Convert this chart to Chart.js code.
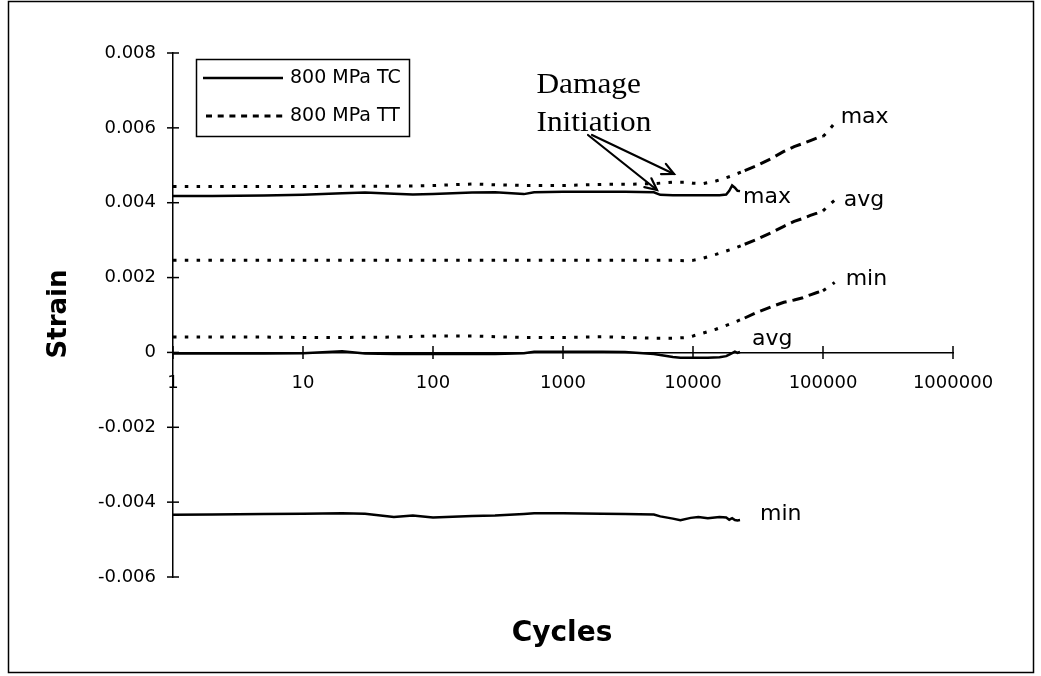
<!DOCTYPE html>
<html><head><meta charset="utf-8">
<script src="https://cdn.jsdelivr.net/npm/chart.js@4.4.1/dist/chart.umd.min.js"></script>
<style>html,body{margin:0;padding:0;background:#fff}#wrap{width:1041px;height:676px;position:relative}</style>
</head><body><div id="wrap"><canvas id="c"></canvas></div>
<script>
// ---- data ----
const tcCycles = [1, 2, 5, 10, 20, 30, 50, 70, 100, 200, 300, 500, 600, 1000, 2000, 3000, 5000, 5600, 7000, 8000, 9600, 11000, 13000, 16000, 18000, 19000, 20000, 21000, 22000, 23000];
const tcMax = [0.00418, 0.00418, 0.00419, 0.00421, 0.00425, 0.00427, 0.00424, 0.00422, 0.00423, 0.00427, 0.00428, 0.00423, 0.00428, 0.00429, 0.00429, 0.00429, 0.00428, 0.00421, 0.0042, 0.0042, 0.0042, 0.0042, 0.0042, 0.0042, 0.00422, 0.00432, 0.00446, 0.0044, 0.00432, 0.00431];
const tcAvg = [-0.00003, -0.00003, -0.00003, -0.00002, 0.00003, -0.00003, -0.00004, -0.00004, -0.00004, -0.00004, -0.00004, -0.00002, 0.00002, 0.00002, 0.00002, 0.00001, -0.00004, -0.00007, -0.00012, -0.00014, -0.00014, -0.00014, -0.00014, -0.00013, -0.0001, -0.00006, -0.00002, 0.00002, -0.00001, 0.00001];
const tcMin = [-0.00434, -0.00433, -0.00432, -0.00431, -0.0043, -0.00431, -0.0044, -0.00436, -0.00441, -0.00437, -0.00436, -0.00432, -0.0043, -0.0043, -0.00431, -0.00432, -0.00433, -0.00438, -0.00444, -0.00448, -0.00442, -0.0044, -0.00443, -0.0044, -0.00441, -0.00447, -0.00443, -0.00448, -0.00449, -0.00448];

const ttCycles = [1, 2, 5, 10, 20, 50, 100, 200, 300, 500, 1000, 2000, 3000, 5000, 7000, 9000, 10000, 12000, 15000, 20000, 25000, 30000, 40000, 50000, 60000, 70000, 80000, 90000, 100000, 110000, 123000];
const ttMax = [0.00443, 0.00443, 0.00443, 0.00443, 0.00444, 0.00444, 0.00446, 0.0045, 0.00448, 0.00446, 0.00446, 0.00449, 0.00449, 0.00451, 0.00455, 0.00455, 0.00452, 0.00451, 0.00458, 0.00472, 0.00486, 0.00497, 0.00518, 0.00537, 0.0055, 0.00558, 0.00566, 0.00573, 0.00577, 0.00592, 0.00613];
const ttAvg = [0.00246, 0.00246, 0.00246, 0.00246, 0.00246, 0.00246, 0.00246, 0.00246, 0.00246, 0.00246, 0.00246, 0.00246, 0.00246, 0.00246, 0.00246, 0.00245, 0.00246, 0.00252, 0.00262, 0.00276, 0.00289, 0.003, 0.0032, 0.00337, 0.0035, 0.00358, 0.00366, 0.00372, 0.00378, 0.00392, 0.00407];
const ttMin = [0.00041, 0.00041, 0.00041, 0.0004, 0.0004, 0.00041, 0.00044, 0.00044, 0.00042, 0.0004, 0.0004, 0.00042, 0.0004, 0.00038, 0.00038, 0.0004, 0.00044, 0.00052, 0.00062, 0.00078, 0.00092, 0.00105, 0.00122, 0.00134, 0.0014, 0.00146, 0.00154, 0.0016, 0.00165, 0.00175, 0.00187];

const xTickValues = [1, 10, 100, 1000, 10000, 100000, 1000000];
const yTickValues = [-0.006, -0.004, -0.002, 0, 0.002, 0.004, 0.006, 0.008];
const seriesNames = ['800 MPa TC', '800 MPa TT'];
const curveLabels = ['max', 'avg', 'min'];
const xTitle = 'Cycles';
const yTitle = 'Strain';
const noteLines = ['Damage', 'Initiation'];

// ---- styles ----
const SOLID_W = 2.5, DOT_W = 3;
const DOT_DASH = [3.5, 8.3];
const LONG_DASH = [11, 6];

function pts(xs, ys) { return xs.map((x, i) => ({ x: x, y: ys[i] })); }
function tcSet(vals) {
  return { data: pts(tcCycles, vals), borderColor: '#000', borderWidth: SOLID_W, borderDash: [], showLine: true, pointRadius: 0, tension: 0, fill: false };
}
function ttSet(vals) {
  return { data: pts(ttCycles, vals), borderColor: '#000', borderWidth: DOT_W, borderDash: DOT_DASH, showLine: true, pointRadius: 0, tension: 0, fill: false,
    segment: { borderDash: c => (c.p0.parsed.x >= 25000 && c.p0.parsed.x < 100000) ? LONG_DASH : undefined } };
}

const datasets = [tcSet(tcMax), tcSet(tcAvg), tcSet(tcMin), ttSet(ttMax), ttSet(ttAvg), ttSet(ttMin)];

// label offsets (pixels) from the last point of each curve
const labelOffsets = [[3, 12], [12, -7], [20, 0], [6, 0], [9, 6], [11, 3]];

function arrow(ctx, x1, y1, x2, y2) {
  ctx.beginPath(); ctx.moveTo(x1, y1); ctx.lineTo(x2, y2); ctx.stroke();
  const a = Math.atan2(y2 - y1, x2 - x1), L = 13, s = 0.45;
  ctx.beginPath();
  ctx.moveTo(x2 - L * Math.cos(a - s), y2 - L * Math.sin(a - s));
  ctx.lineTo(x2, y2);
  ctx.lineTo(x2 - L * Math.cos(a + s), y2 - L * Math.sin(a + s));
  ctx.stroke();
}

const deco = {
  id: 'deco',
  beforeDraw(chart) {
    const ctx = chart.ctx; ctx.save(); ctx.fillStyle = '#fff'; ctx.fillRect(0, 0, chart.width, chart.height); ctx.restore();
  },
  afterDraw(chart) {
    const ctx = chart.ctx, xs = chart.scales.x, ys = chart.scales.y;
    ctx.save();
    ctx.strokeStyle = '#000'; ctx.fillStyle = '#000';
    // outer frame
    ctx.lineWidth = 1.5; ctx.setLineDash([]);
    ctx.strokeRect(8.5, 1.5, 1025, 671);
    // cross tick marks
    const y0 = ys.getPixelForValue(0), x0 = xs.getPixelForValue(1);
    ctx.lineWidth = 1.5;
    xTickValues.forEach(v => { const p = xs.getPixelForValue(v); ctx.beginPath(); ctx.moveTo(p, y0 - 6.5); ctx.lineTo(p, y0 + 6.5); ctx.stroke(); });
    yTickValues.forEach(v => { const p = ys.getPixelForValue(v); ctx.beginPath(); ctx.moveTo(x0 - 6, p); ctx.lineTo(x0 + 6, p); ctx.stroke(); });

    // axis titles
    ctx.font = 'bold 28px "DejaVu Sans"'; ctx.textAlign = 'center'; ctx.textBaseline = 'alphabetic';
    ctx.fillText(xTitle, 562, 641);
    ctx.save(); ctx.translate(66, 314); ctx.rotate(-Math.PI / 2);
    ctx.font = 'bold 26px "DejaVu Sans"'; ctx.fillText(yTitle, 0, 0); ctx.restore();

    // legend
    ctx.lineWidth = 1.5; ctx.strokeRect(196.5, 59.5, 213, 77);
    ctx.lineWidth = SOLID_W; ctx.beginPath(); ctx.moveTo(203, 78); ctx.lineTo(283, 78); ctx.stroke();
    ctx.lineWidth = DOT_W; ctx.setLineDash([6, 5.7]); ctx.beginPath(); ctx.moveTo(206, 116); ctx.lineTo(283, 116); ctx.stroke();
    ctx.setLineDash([]);
    ctx.font = '19px "DejaVu Sans"'; ctx.textAlign = 'left'; ctx.textBaseline = 'middle';
    ctx.fillText(seriesNames[0], 290, 78);
    ctx.fillText(seriesNames[1], 290, 116);

    // curve labels
    ctx.font = '22px "DejaVu Sans"'; ctx.textBaseline = 'alphabetic';
    chart.data.datasets.forEach((ds, i) => {
      const last = ds.data[ds.data.length - 1];
      const px = xs.getPixelForValue(last.x), py = ys.getPixelForValue(last.y);
      ctx.fillText(curveLabels[i % 3], px + labelOffsets[i][0], py + labelOffsets[i][1]);
    });

    // annotation
    ctx.save(); ctx.translate(536.5, 0); ctx.scale(1.08, 1);
    ctx.font = '29px "Liberation Serif"'; ctx.textAlign = 'left';
    ctx.fillText(noteLines[0], 0, 93);
    ctx.fillText(noteLines[1], 0, 131);
    ctx.restore();
    ctx.lineWidth = 2.2; ctx.lineCap = 'round';
    arrow(ctx, 588, 135, 657, 190);
    arrow(ctx, 592, 135, 674, 174);
    ctx.restore();
  }
};

new Chart(document.getElementById('c'), {
  type: 'scatter',
  data: { datasets: datasets },
  options: {
    responsive: true, maintainAspectRatio: false, animation: false,
    layout: { padding: { left: 0, right: 88, top: 53, bottom: 99 } },
    plugins: { legend: { display: false }, tooltip: { enabled: false } },
    scales: {
      x: {
        type: 'logarithmic', min: 1, max: 1000000, position: { y: 0 },
        grid: { display: false, drawTicks: false },
        border: { display: true, color: '#000', width: 1.5 },
        afterBuildTicks: s => { s.ticks = xTickValues.map(v => ({ value: v })); },
        ticks: { autoSkip: false, maxRotation: 0, padding: 20, color: '#000', font: { family: 'DejaVu Sans', size: 18 },
          callback: v => String(v) }
      },
      y: {
        type: 'linear', min: -0.006, max: 0.008, position: 'left',
        grid: { display: false, drawTicks: false },
        border: { display: true, color: '#000', width: 1.5 },
        afterFit: s => { s.width = 173; },
        afterBuildTicks: s => { s.ticks = yTickValues.map(v => ({ value: v })); },
        ticks: { padding: 17, color: '#000', font: { family: 'DejaVu Sans', size: 18 },
          callback: v => (Math.abs(v) < 1e-12 ? '0' : Number(v).toFixed(3)) }
      }
    }
  },
  plugins: [deco]
});
</script>
</body></html>
